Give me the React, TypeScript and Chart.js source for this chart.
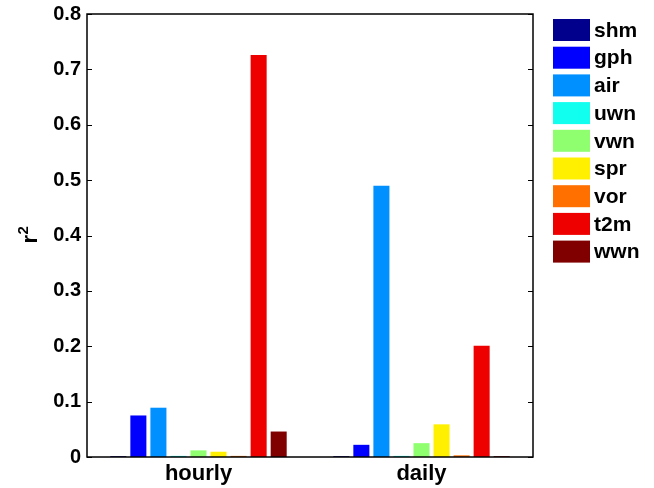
import React, { useEffect, useRef } from "react";
import { Chart, registerables } from "chart.js";

Chart.register(...registerables);

const categories = ["hourly", "daily"];
const seriesNames = ["shm", "gph", "air", "uwn", "vwn", "spr", "vor", "t2m", "wwn"];
const seriesColors = ["#00008C", "#0000FF", "#0090FF", "#10FFEF", "#8FFF70", "#FFF000", "#FF7000", "#EF0000", "#800000"];
const shm = [0.0015, 0.0015];
const gph = [0.075, 0.022];
const air = [0.089, 0.49];
const uwn = [0.002, 0.002];
const vwn = [0.012, 0.025];
const spr = [0.0095, 0.059];
const vor = [0.002, 0.003];
const t2m = [0.726, 0.201];
const wwn = [0.046, 0.0015];
const seriesValues = [shm, gph, air, uwn, vwn, spr, vor, t2m, wwn];
const yMin = 0;
const yMax = 0.8;
const yStep = 0.1;
const yTitle = "r";
const yTitleSup = "2";

const FONT = "'Liberation Sans', Arial, Helvetica, sans-serif";

const boxPlugin = {
  id: "boxPlugin",
  afterDraw(chart: any) {
    const { ctx, chartArea } = chart;
    const { left, right, top, bottom } = chartArea;
    const y = chart.scales.y;
    ctx.save();
    ctx.strokeStyle = "#000";
    ctx.lineWidth = 1.5;
    ctx.strokeRect(left, top, right - left, bottom - top);
    ctx.lineWidth = 1;
    y.ticks.forEach((t: any) => {
      const py = Math.round(y.getPixelForValue(t.value)) + 0.5;
      ctx.beginPath();
      ctx.moveTo(left, py);
      ctx.lineTo(left + 5, py);
      ctx.moveTo(right, py);
      ctx.lineTo(right - 5, py);
      ctx.stroke();
    });
    // y title with superscript
    ctx.save();
    ctx.translate(37, y.getPixelForValue(0.4) + 8);
    ctx.rotate(-Math.PI / 2);
    ctx.fillStyle = "#000";
    ctx.textAlign = "left";
    ctx.textBaseline = "alphabetic";
    ctx.font = `bold 22px ${FONT}`;
    ctx.fillText(yTitle, 0, 0);
    const w = ctx.measureText(yTitle).width;
    ctx.font = `bold 15px ${FONT}`;
    ctx.fillText(yTitleSup, w + 0.5, -9);
    ctx.restore();
    // legend
    const lx = right + 20;
    const ly = 19;
    const step = 27.7;
    ctx.font = `bold 21px ${FONT}`;
    ctx.textBaseline = "middle";
    ctx.textAlign = "left";
    chart.data.datasets.forEach((ds: any, i: number) => {
      const ty = ly + i * step;
      ctx.fillStyle = ds.backgroundColor;
      ctx.fillRect(lx, ty, 37, 22);
      ctx.fillStyle = "#000";
      ctx.fillText(ds.label, lx + 41, ty + 12);
    });
    ctx.restore();
  },
};

export default function App() {
  const ref = useRef<HTMLCanvasElement | null>(null);
  useEffect(() => {
    if (!ref.current) return;
    const chart = new Chart(ref.current, {
      type: "bar",
      data: {
        labels: categories,
        datasets: seriesNames.map((n, i) => ({
          label: n,
          data: seriesValues[i],
          backgroundColor: seriesColors[i],
          borderWidth: 0,
          categoryPercentage: 0.809,
          barPercentage: 0.8,
        })),
      },
      options: {
        animation: false,
        responsive: true,
        maintainAspectRatio: false,
        layout: { padding: { left: 0, top: 14, right: 121, bottom: 0 } },
        plugins: { legend: { display: false }, tooltip: { enabled: false } },
        scales: {
          x: {
            grid: { display: false, drawTicks: false },
            border: { display: false },
            ticks: { color: "#000", font: { family: FONT, size: 22, weight: "bold" }, padding: 4 },
            afterFit: (s: any) => { s.height = 31; s.paddingLeft = 0; s.paddingRight = 0; },
          },
          y: {
            min: yMin,
            max: yMax,
            grid: { display: false, drawTicks: false },
            border: { display: false },
            ticks: {
              stepSize: yStep,
              color: "#000",
              font: { family: FONT, size: 20, weight: "bold" },
              padding: 6,
            },
            afterFit: (s: any) => { s.width = 87; s.paddingTop = 0; s.paddingBottom = 0; },
          },
        },
      },
      plugins: [boxPlugin],
    });
    return () => chart.destroy();
  }, []);
  return (
    <div style={{ position: "fixed", left: 0, top: 0, width: 654, height: 488, background: "#fff" }}>
      <canvas ref={ref} />
    </div>
  );
}
